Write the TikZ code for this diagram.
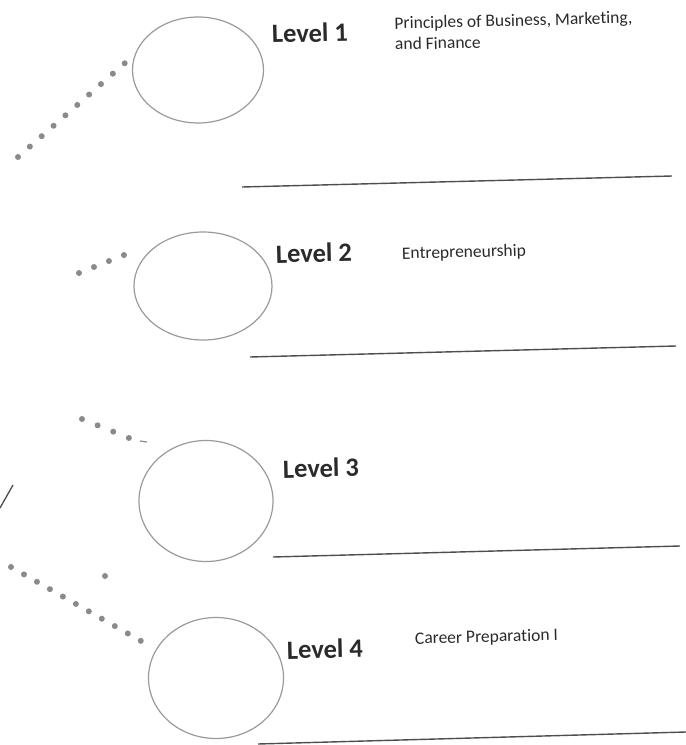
\documentclass[tikz,border=0pt]{standalone}
\usepackage{fontspec}
\setmainfont{Carlito}[Ligatures=NoCommon]
\usetikzlibrary{shapes.geometric}

\definecolor{ringgray}{HTML}{9A9A9A}
\definecolor{rulegray}{HTML}{4E4E4E}
\definecolor{dotgray}{HTML}{8A8A8A}
\definecolor{inkgray}{HTML}{2A2A2A}

\tikzset{
  ring/.style={draw=ringgray, line width=1.2pt, ellipse, inner sep=0pt},
  levellabel/.style={anchor=base west, inner sep=0pt, rotate=1.4, text=inkgray,
    font=\fontsize{26.5}{30}\selectfont\bfseries},
  coursetext/.style={anchor=base west, inner sep=0pt, rotate=1.4, text=inkgray,
    align=left, font=\fontsize{17.5}{21}\selectfont},
  writeline/.style={draw=rulegray, line width=1.4pt},
  dotchain/.style={draw=dotgray, line width=6pt, line cap=round},
}

\begin{document}
\begin{tikzpicture}[x=1pt, y=-1pt]
  \useasboundingbox (0,0) rectangle (686,745);

  % level circles
  \node[ring, minimum width=131pt, minimum height=106pt] (c1) at (198,70) {};
  \node[ring, minimum width=138pt, minimum height=108pt] (c2) at (203,286) {};
  \node[ring, minimum width=134pt, minimum height=121pt] (c3) at (206,501) {};
  \node[ring, minimum width=135pt, minimum height=121pt] (c4) at (216,678) {};

  % level headings
  \node[levellabel] (l1) at (272,43) {Level 1};
  \node[levellabel] (l2) at (276,263) {Level 2};
  \node[levellabel] (l3) at (283,478) {Level 3};
  \node[levellabel] (l4) at (287,659) {Level 4};

  % course names (base anchor of a two-line node sits on its last line)
  \node[coursetext] (t1) at (395,50) {Principles of Business, Marketing,\\and Finance};
  \node[coursetext] (t2) at (402,259) {Entrepreneurship};
  \node[coursetext] (t4) at (415,644) {Career Preparation I};

  % writing lines
  \coordinate (w1a) at (242,187); \coordinate (w1b) at (672,176);
  \coordinate (w2a) at (250,357); \coordinate (w2b) at (676,346);
  \coordinate (w3a) at (273,557); \coordinate (w3b) at (680,546);
  \coordinate (w4a) at (258,744); \coordinate (w4b) at (686,732);
  \draw[writeline] (w1a) -- (w1b);
  \draw[writeline] (w2a) -- (w2b);
  \draw[writeline] (w3a) -- (w3b);
  \draw[writeline] (w4a) -- (w4b);

  % dotted leaders toward the circles
  \coordinate (d1a) at (18,157);  \coordinate (d1b) at (125,63);
  \coordinate (d2a) at (79,273);  \coordinate (d2b) at (124,255);
  \coordinate (d3a) at (82,419);  \coordinate (d3b) at (129,438);
  \coordinate (d4a) at (11,567);  \coordinate (d4b) at (141,641);
  \draw[dotchain, dash pattern=on 0pt off 15.78pt] (d1a) -- (d1b);
  \draw[dotchain, dash pattern=on 0pt off 16.12pt] (d2a) -- (d2b);
  \draw[dotchain, dash pattern=on 0pt off 16.85pt] (d3a) -- (d3b);
  \draw[dotchain, dash pattern=on 0pt off 14.93pt] (d4a) -- (d4b);

  % stray marks
  \coordinate (s1) at (140,441); \coordinate (s2) at (147,442);
  \draw[draw=dotgray, line width=1.2pt] (s1) -- (s2);
  \fill[dotgray] (105,576) circle (3pt);
  \coordinate (k1) at (0,508); \coordinate (k2) at (13,485);
  \draw[draw=rulegray, line width=1.3pt] (k1) -- (k2);
\end{tikzpicture}
\end{document}
